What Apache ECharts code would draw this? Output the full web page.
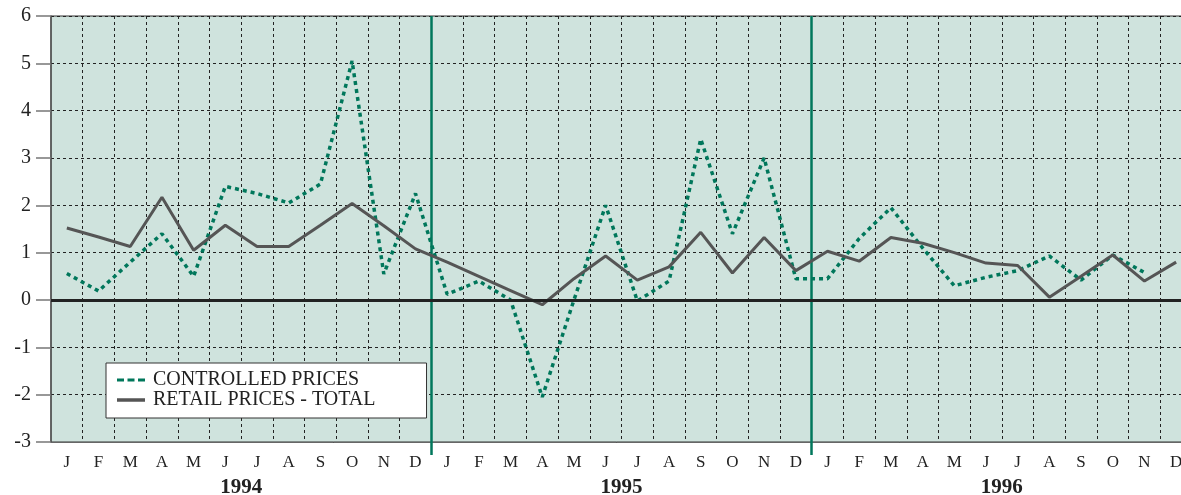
<!DOCTYPE html>
<html>
<head>
<meta charset="utf-8">
<script src="https://cdn.jsdelivr.net/npm/echarts@6/dist/echarts.min.js"></script>
<style>
html,body{margin:0;padding:0;background:#fff;}
#c{width:1181px;height:495px;}
</style>
</head>
<body>
<div id="c"></div>
<script>
// ---- data ----
var months = ['J','F','M','A','M','J','J','A','S','O','N','D',
              'J','F','M','A','M','J','J','A','S','O','N','D',
              'J','F','M','A','M','J','J','A','S','O','N','D'];
var years = ['1994','1995','1996'];
var yTicks = [-3,-2,-1,0,1,2,3,4,5,6];
var controlledPrices = [
  0.56, 0.19, 0.80, 1.40, 0.50, 2.40, 2.25, 2.05, 2.45, 5.05, 0.55, 2.25,
  0.12, 0.40, 0.00, -2.05, 0.00, 2.00, -0.02, 0.40, 3.40, 1.40, 3.00, 0.45,
  0.45, 1.30, 1.95, 1.10, 0.30, 0.48, 0.62, 0.93, 0.42, 0.95, 0.58, null
];
var retailTotal = [
  1.52, 1.33, 1.13, 2.17, 1.05, 1.58, 1.13, 1.13, 1.58, 2.04, 1.57, 1.08,
  0.80, 0.50, 0.20, -0.10, 0.45, 0.93, 0.42, 0.70, 1.43, 0.57, 1.32, 0.62,
  1.03, 0.82, 1.32, 1.20, 1.00, 0.78, 0.73, 0.06, 0.50, 0.95, 0.40, 0.80
];

var SERIF = '"Liberation Serif","DejaVu Serif",serif';
var GREEN = '#00775b';
var chart = echarts.init(document.getElementById('c'), null, {renderer:'canvas'});
chart.setOption({
  animation: false,
  backgroundColor: '#ffffff',
  grid: {
    left: 51, top: 16, width: 1141, height: 426,
    containLabel: false,
    outerBoundsMode: 'none',
    show: true, backgroundColor: '#cfe3dd', borderColor: '#333', borderWidth: 1
  },
  legend: {
    left: 106, top: 363,
    orient: 'vertical',
    backgroundColor: '#ffffff',
    borderColor: '#333', borderWidth: 1,
    padding: [7, 51, 8, 11],
    itemWidth: 28, itemHeight: 4, itemGap: 0,
    textStyle: {fontFamily: SERIF, fontSize: 20, color: '#222', lineHeight: 19, padding: [0, 0, 0, 3]},
    data: [
      {name: 'CONTROLLED PRICES', icon: 'path://M0,0h7v3h-7z M10.5,0h7v3h-7z M21,0h7v3h-7z'},
      {name: 'RETAIL PRICES - TOTAL', icon: 'path://M0,0h28v3.5h-28z'}
    ]
  },
  xAxis: [{
    type: 'category',
    data: months,
    boundaryGap: true,
    position: 'bottom',
    axisLine: {onZero: false, lineStyle: {color: '#666', width: 1}},
    axisTick: {show: false},
    axisLabel: {fontFamily: SERIF, fontSize: 17, color: '#222', margin: 12, interval: 0},
    splitLine: {
      show: true,
      interval: function (i) { return i % 12 !== 0; },
      lineStyle: {color: '#222', width: 1, type: [3, 3]}
    }
  }, {
    type: 'category',
    data: years,
    boundaryGap: true,
    position: 'bottom',
    axisLine: {show: false, onZero: false},
    axisTick: {
      show: true, length: 13,
      interval: function (i) { return i !== 0; },
      lineStyle: {color: GREEN, width: 2.5}
    },
    axisLabel: {fontFamily: SERIF, fontSize: 21, fontWeight: 'bold', color: '#222', margin: 35, interval: 0},
    splitLine: {
      show: true,
      interval: function (i) { return i !== 0; },
      lineStyle: {color: GREEN, width: 2.5}
    }
  }],
  yAxis: {
    type: 'value',
    min: yTicks[0], max: yTicks[yTicks.length - 1], interval: 1,
    axisLine: {show: true, lineStyle: {color: '#555', width: 1.5}},
    axisTick: {show: true, length: 15, lineStyle: {color: '#777', width: 1.5}},
    axisLabel: {fontFamily: SERIF, fontSize: 20, color: '#222', margin: 20},
    splitLine: {show: true, lineStyle: {color: '#222', width: 1, type: [3, 3]}}
  },
  series: [{
    name: 'CONTROLLED PRICES',
    type: 'line',
    xAxisIndex: 0,
    data: controlledPrices,
    symbol: 'none',
    connectNulls: false,
    lineStyle: {color: GREEN, width: 3.5, type: [4, 4]},
    itemStyle: {color: GREEN},
    z: 3
  }, {
    name: 'RETAIL PRICES - TOTAL',
    type: 'line',
    xAxisIndex: 0,
    data: retailTotal,
    symbol: 'none',
    lineStyle: {color: '#555555', width: 3, type: 'solid'},
    itemStyle: {color: '#555555'},
    z: 4,
    markLine: {
      silent: true,
      symbol: 'none',
      label: {show: false},
      lineStyle: {color: '#222', width: 3, type: 'solid'},
      data: [{yAxis: 0}]
    }
  }]
});
</script>
</body>
</html>
